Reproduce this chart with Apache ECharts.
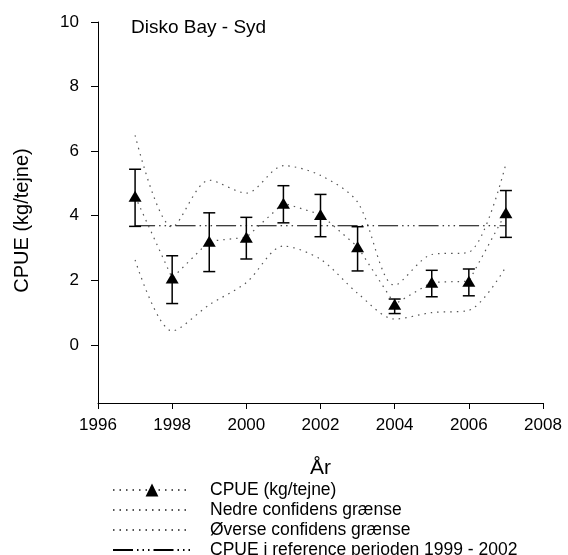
<!DOCTYPE html>
<html>
<head>
<meta charset="utf-8">
<script src="https://cdn.jsdelivr.net/npm/echarts@6/dist/echarts.min.js"></script>
<style>
html,body{margin:0;padding:0;background:#fff;}
#chart{width:568px;height:555px;}
</style>
</head>
<body>
<div id="chart"></div>
<script>
var years = [1997, 1998, 1999, 2000, 2001, 2002, 2003, 2004, 2005, 2006, 2007];
var cpue = [4.6, 2.07, 3.21, 3.33, 4.39, 4.04, 3.04, 1.26, 1.94, 1.97, 4.09];
var errHigh = [5.44, 2.76, 4.09, 3.95, 4.93, 4.66, 3.66, 1.42, 2.31, 2.35, 4.78];
var errLow = [3.67, 1.28, 2.27, 2.66, 3.78, 3.35, 2.29, 0.97, 1.49, 1.52, 3.33];
var lowerCI = [2.63, 0.43, 1.24, 1.93, 3.06, 2.65, 1.6, 0.8, 1.0, 1.07, 2.42];
var upperCI = [6.49, 3.65, 5.1, 4.7, 5.55, 5.25, 4.42, 1.85, 2.8, 2.87, 5.61];
var refYears = [1997, 2007];
var refValue = [3.69, 3.69];
var yTicks = [0, 2, 4, 6, 8, 10];
var seriesNames = ['CPUE (kg/tejne)', 'Nedre confidens grænse', 'Øverse confidens grænse', 'CPUE i reference perioden 1999 - 2002'];

function pairs(xs, ys) { return xs.map(function (x, i) { return [x, ys[i]]; }); }

var FONT = 'Liberation Sans, Arial, sans-serif';
var dotted = [1.5, 5];
var hidden = {opacity: 0};

var chart = echarts.init(document.getElementById('chart'), null, {renderer: 'canvas'});
chart.setOption({
  animation: false,
  backgroundColor: '#fff',
  grid: {left: 98, right: 25, top: 22, bottom: 152, containLabel: false},
  title: {
    text: 'Disko Bay - Syd', left: 126, top: 13,
    textStyle: {fontFamily: FONT, fontSize: 19, fontWeight: 'normal', color: '#000'}
  },
  legend: {
    orient: 'vertical', left: 112, top: 481, height: 120, padding: 0,
    itemWidth: 78, itemHeight: 16, itemGap: 2,
    data: [
      {name: seriesNames[0]},
      {name: seriesNames[1], itemStyle: hidden},
      {name: seriesNames[2], itemStyle: hidden},
      {name: seriesNames[3], itemStyle: hidden}
    ],
    textStyle: {fontFamily: FONT, fontSize: 17.5, lineHeight: 18, color: '#000', padding: [0, 0, 0, 14]},
    selectedMode: false
  },
  xAxis: {
    type: 'value', min: 1996, max: 2008, interval: 2,
    name: 'År', nameLocation: 'middle', nameGap: 55,
    nameTextStyle: {fontFamily: FONT, fontSize: 21, color: '#000'},
    axisLine: {onZero: false, lineStyle: {color: '#000', width: 1}},
    axisTick: {inside: false, length: 6, lineStyle: {color: '#000'}},
    axisLabel: {fontFamily: FONT, fontSize: 17, color: '#000', margin: 14,
      formatter: function (v) { return String(v); }},
    splitLine: {show: false}
  },
  yAxis: {
    type: 'value', min: -1.8, max: 10,
    name: 'CPUE (kg/tejne)', nameLocation: 'middle', nameGap: 66,
    nameTextStyle: {fontFamily: FONT, fontSize: 20, color: '#000', padding: [0, 16, 0, 0]},
    axisLine: {show: true, lineStyle: {color: '#000', width: 1}},
    axisTick: {show: true, length: 7, customValues: yTicks, lineStyle: {color: '#000'}},
    axisLabel: {fontFamily: FONT, fontSize: 17, color: '#000', margin: 19, customValues: yTicks},
    splitLine: {show: false}
  },
  series: [
    {
      name: seriesNames[0], type: 'line', data: pairs(years, cpue),
      symbol: 'triangle', symbolSize: [13, 11],
      itemStyle: {color: '#000'},
      lineStyle: {color: '#555', width: 1.2, type: dotted},
      z: 5
    },
    {
      name: seriesNames[1], type: 'line', data: pairs(years, lowerCI),
      smooth: 0.3, showSymbol: false, symbol: 'none',
      itemStyle: {color: '#555'},
      lineStyle: {color: '#555', width: 1.2, type: dotted}
    },
    {
      name: seriesNames[2], type: 'line', data: pairs(years, upperCI),
      smooth: 0.3, showSymbol: false, symbol: 'none',
      itemStyle: {color: '#555'},
      lineStyle: {color: '#555', width: 1.2, type: dotted}
    },
    {
      name: seriesNames[3], type: 'line', data: pairs(refYears, refValue),
      showSymbol: false, symbol: 'none',
      itemStyle: {color: '#000'},
      lineStyle: {color: '#000', width: 1.2, type: [20, 4, 1.5, 4, 1.5, 4, 1.5, 4]}
    },
    {
      name: 'err', type: 'custom',
      data: years.map(function (y, i) { return [y, errLow[i], errHigh[i]]; }),
      renderItem: function (params, api) {
        var lo = api.coord([api.value(0), api.value(1)]);
        var hi = api.coord([api.value(0), api.value(2)]);
        var hw = 6;
        var st = {stroke: '#000', lineWidth: 1.5};
        return {type: 'group', children: [
          {type: 'line', shape: {x1: lo[0], y1: lo[1], x2: hi[0], y2: hi[1]}, style: st},
          {type: 'line', shape: {x1: lo[0] - hw, y1: lo[1], x2: lo[0] + hw, y2: lo[1]}, style: st},
          {type: 'line', shape: {x1: hi[0] - hw, y1: hi[1], x2: hi[0] + hw, y2: hi[1]}, style: st}
        ]};
      },
      z: 4
    }
  ]
});
</script>
</body>
</html>
